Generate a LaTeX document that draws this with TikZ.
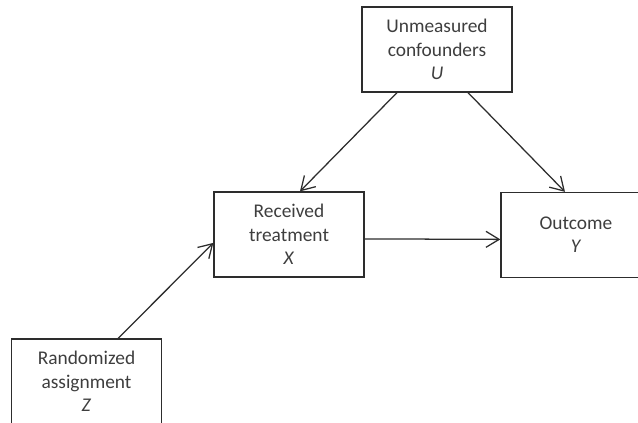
\documentclass[tikz,border=0pt]{standalone}
\usepackage{fontspec}
\setmainfont{Carlito}
\usepackage{xcolor}
\usepackage{tikz}
\usetikzlibrary{positioning,arrows.meta}
\definecolor{linecolor}{RGB}{45,45,45}
\definecolor{labelcolor}{RGB}{62,62,62}
\tikzset{
    variable box/.style={rectangle, draw=linecolor, line width=0.9pt, minimum width=3.75cm, minimum height=2.125cm, inner sep=0pt, align=center, text=labelcolor, font=\fontsize{13.8}{16.6}\selectfont},
    causal arrow/.style={-{Straight Barb[length=0.33cm, width=0.4cm]}, line width=0.9pt, linecolor}
}

\begin{document}
\begin{tikzpicture}
    % Page frame (boxes run past the right and bottom edges)
    \useasboundingbox (0,0) rectangle (15.95,-10.575);
    \clip (0,0) rectangle (15.95,-10.575);

    % Variables
    \node[variable box] (U) at (10.925,-1.2375) {Unmeasured\\confounders\\\textit{U}};
    \node[variable box] (X) at (7.225,-5.8625) {Received\\treatment\\\textit{X}};
    \node[variable box] (Y) at (14.4,-5.875) {Outcome\\\textit{Y}};
    \node[variable box] (Z) at (2.1625,-9.5375) {Randomized\\assignment\\\textit{Z}};

    % Causal paths
    \draw[causal arrow] ([xshift=-1cm]U.south) -- ([xshift=0.275cm]X.north);
    \draw[causal arrow] ([xshift=0.775cm]U.south) -- ([xshift=-0.275cm]Y.north);
    \draw[causal arrow] ([yshift=-0.11cm]X.east) -- ([yshift=-0.11cm]Y.west);
    \draw[causal arrow] ([xshift=0.79cm]Z.north) -- ([yshift=-0.21cm]X.west);
\end{tikzpicture}
\end{document}
